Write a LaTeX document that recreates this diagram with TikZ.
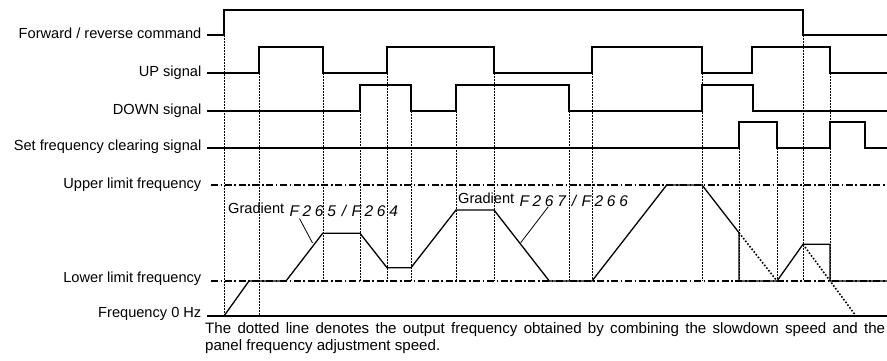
\documentclass[tikz,border=0pt]{standalone}
\usepackage{fontspec}
\setmainfont{Liberation Sans}
\newcommand\sgc[1]{\makebox[12.4pt][c]{#1}}
\newcommand\segtext[1]{\raisebox{-3pt}{\fontsize{15.5}{16}\selectfont\itshape #1}}
\begin{document}
\begin{tikzpicture}[x=1pt,y=-1pt,
  sig/.style={line width=1.3pt, line join=miter},
  guide/.style={line width=1pt, dash pattern=on 1.6pt off 1.4pt},
  limit/.style={line width=1.6pt, dash pattern=on 7pt off 2.6pt on 1.6pt off 2.6pt},
  freq/.style={line width=1.3pt, line join=miter},
  freqdot/.style={line width=1.6pt, dash pattern=on 1.6pt off 1.8pt},
  lead/.style={line width=0.8pt},
  lbl/.style={anchor=base east, inner sep=0pt, font=\fontsize{14.6}{16}\selectfont},
  grad/.style={anchor=base west, inner sep=0pt, font=\fontsize{14.6}{16}\selectfont},
  captext/.style={anchor=base west, inner sep=0pt, font=\fontsize{15.1}{17}\selectfont}]
\useasboundingbox (0,0) rectangle (887,360);

% labels
\node[lbl] (lfwd) at (201.5,38) {Forward / reverse command};
\node[lbl] (lup) at (201.5,76.7) {UP signal};
\node[lbl] (ldown) at (201.5,114) {DOWN signal};
\node[lbl] (lclr) at (201.5,150.7) {Set frequency clearing signal};
\node[lbl] (lupper) at (201.5,188) {Upper limit frequency};
\node[lbl] (llower) at (201.5,282) {Lower limit frequency};
\node[lbl] (lzero) at (201.5,317) {Frequency 0 Hz};

% dotted guides
\foreach \x/\ya/\yb in {224/35/316, 259/73/316, 323/73/281, 360/111/281, 387/73/281,
  411/111/281, 456/111/281, 494/73/281, 569/111/281, 592/73/281, 702/73/281,
  739/148/281, 777/148/281, 803/35/281, 830/73/281}
  \draw[guide] (\x,\ya) -- (\x,\yb);

% limit lines
\draw[limit] (211,185) -- (887,185);
\draw[limit] (211,281) -- (887,281);
\draw[sig] (207,316) -- (887,316);

% signals
\draw[sig] (207,35) -- (224,35) -- (224,10) -- (803,10) -- (803,35) -- (887,35);
\draw[sig] (207,73) -- (259,73) -- (259,47) -- (323,47) -- (323,73) -- (387,73) -- (387,47)
  -- (494,47) -- (494,73) -- (592,73) -- (592,47) -- (702,47) -- (702,73) -- (752,73)
  -- (752,47) -- (830,47) -- (830,73) -- (887,73);
\draw[sig] (207,111) -- (360,111) -- (360,85) -- (411,85) -- (411,111)
  -- (456,111) -- (456,85) -- (569,85) -- (569,111) -- (702,111) -- (702,85)
  -- (753,85) -- (753,111) -- (887,111);
\draw[sig] (207,148) -- (739,148) -- (739,122) -- (777,122) -- (777,148) -- (830,148)
  -- (830,122) -- (865,122) -- (865,148) -- (887,148);

% frequency
\draw[freq] (224,316) -- (249,281) -- (286,281) -- (322.7,233.3) -- (360,233.3)
  -- (387,267.7) -- (411,267.7) -- (456,210) -- (494,210) -- (549.3,281) -- (592,281)
  -- (666.7,185) -- (702,185) -- (739,232.7) -- (739,281) -- (777,281) -- (803,244.3)
  -- (830,244.3) -- (830,281) -- (887,281);
\draw[freqdot] (739,232.7) -- (777,281);
\draw[freqdot] (803,244.3) -- (856,316);

% gradient labels
\node[grad] (g1) at (228,213.3) {Gradient \segtext{\sgc{F}\sgc{2}\sgc{6}\sgc{5}\sgc{/}\sgc{F}\sgc{2}\sgc{6}\sgc{4}}};
\node[grad] (g2) at (458,203.5) {Gradient \segtext{\sgc{F}\sgc{2}\sgc{6}\sgc{7}\sgc{/}\sgc{F}\sgc{2}\sgc{6}\sgc{6}}};
\coordinate (g1a) at (299.5,218.5);
\coordinate (r1) at (312.5,243);
\coordinate (g2a) at (548.3,206.7);
\coordinate (r2) at (520.7,242.7);
\draw[lead] (g1a) -- (r1);
\draw[lead] (g2a) -- (r2);

% caption
\node[captext] (cap1) at (205,333) {\makebox[680pt][s]{The dotted line denotes the output frequency obtained by combining the slowdown speed and the}};
\node[captext] (cap2) at (205,350.5) {panel frequency adjustment speed.};
\end{tikzpicture}
\end{document}
